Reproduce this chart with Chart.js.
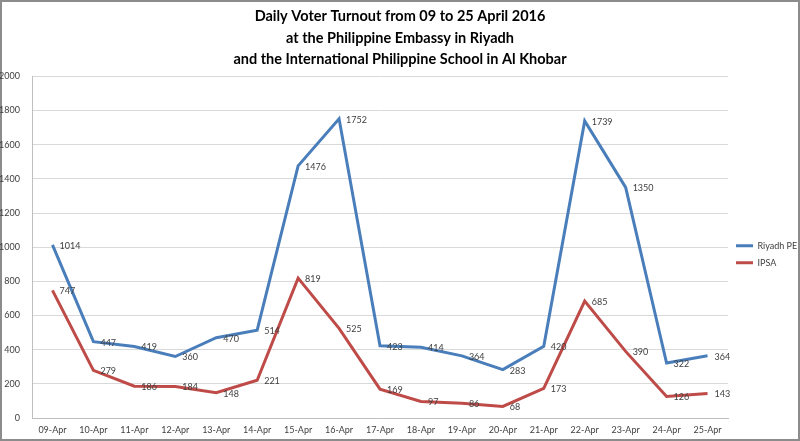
<!DOCTYPE html>
<html>
<head>
<meta charset="utf-8">
<script src="https://cdn.jsdelivr.net/npm/chart.js@4.4.1/dist/chart.umd.min.js"></script>
<style>
  html, body { margin: 0; padding: 0; background: #fff; }
  canvas { display: block; }
</style>
</head>
<body>
<canvas id="turnoutChart" width="800" height="441"></canvas>
<script>
// Datos de la gráfica
const days = ["09-Apr", "10-Apr", "11-Apr", "12-Apr", "13-Apr", "14-Apr", "15-Apr", "16-Apr", "17-Apr",
              "18-Apr", "19-Apr", "20-Apr", "21-Apr", "22-Apr", "23-Apr", "24-Apr", "25-Apr"];
const riyadhPE = [1014, 447, 419, 360, 470, 514, 1476, 1752, 423, 414, 364, 283, 420, 1739, 1350, 322, 364];
const ipsa = [747, 279, 186, 184, 148, 221, 819, 525, 169, 97, 86, 68, 173, 685, 390, 126, 143];
const titleLines = [
    "Daily Voter Turnout from 09 to 25 April 2016",
    "at the Philippine Embassy in Riyadh",
    "and the International Philippine School in Al Khobar"
];

const FONT = "Lato";

// Fondo blanco y marco gris
const frame = {
    id: "frame",
    beforeDraw(chart) {
        const ctx = chart.ctx;
        ctx.save();
        ctx.fillStyle = "#fff";
        ctx.fillRect(0, 0, chart.width, chart.height);
        ctx.strokeStyle = "#8c8c8c";
        ctx.lineWidth = 2;
        ctx.strokeRect(1, 1, chart.width - 2, chart.height - 2);
        ctx.restore();
    }
};

// Etiquetas de valor a la derecha de cada punto
const valueLabels = {
    id: "valueLabels",
    afterDatasetsDraw(chart) {
        const ctx = chart.ctx;
        ctx.save();
        ctx.font = `9px ${FONT}`;
        ctx.fillStyle = "#404040";
        ctx.textAlign = "left";
        ctx.textBaseline = "middle";
        chart.data.datasets.forEach((ds, i) => {
            chart.getDatasetMeta(i).data.forEach((pt, j) => {
                ctx.fillText(ds.data[j], pt.x + 7, pt.y + 1);
            });
        });
        ctx.restore();
    }
};

new Chart(document.getElementById("turnoutChart"), {
    type: "line",
    data: {
        labels: days,
        datasets: [
            {
                label: "Riyadh PE",
                data: riyadhPE,
                borderColor: "#4a7ebb",
                backgroundColor: "#4a7ebb",
                borderWidth: 3,
                pointRadius: 0,
                tension: 0
            },
            {
                label: "IPSA",
                data: ipsa,
                borderColor: "#be4b48",
                backgroundColor: "#be4b48",
                borderWidth: 3,
                pointRadius: 0,
                tension: 0
            }
        ]
    },
    options: {
        responsive: false,
        devicePixelRatio: 1,
        animation: false,
        layout: { padding: { left: 0, right: 0, top: 0, bottom: 0 } },
        plugins: {
            title: {
                display: true,
                text: titleLines,
                color: "#000",
                font: { family: FONT, size: 14.5, weight: "bold", lineHeight: 1.48 },
                padding: { top: 6, bottom: 6 }
            },
            legend: {
                position: "right",
                fullSize: false,
                maxWidth: 72,
                // título vacío solo para bajar un poco las entradas
                title: { display: true, text: " ", padding: 1, font: { size: 10 } },
                labels: {
                    usePointStyle: true,
                    pointStyle: "line",
                    pointStyleWidth: 17,
                    color: "#404040",
                    font: { family: FONT, size: 9 },
                    padding: 8
                }
            },
            tooltip: { enabled: false }
        },
        scales: {
            x: {
                offset: true,
                afterFit(scale) { scale.height = 23; },
                grid: { display: false, tickLength: 4 },
                border: { display: true, color: "#bfbfbf" },
                ticks: { color: "#404040", font: { family: FONT, size: 9 }, maxRotation: 0, autoSkip: false, padding: 3 }
            },
            y: {
                min: 0,
                max: 2000,
                afterFit(scale) { scale.width = 32; },
                grid: { color: "#d9d9d9", drawTicks: false },
                border: { display: true, color: "#bfbfbf" },
                ticks: {
                    stepSize: 200,
                    color: "#404040",
                    font: { family: FONT, size: 9 },
                    padding: 12,
                    callback: v => String(v)
                }
            }
        }
    },
    plugins: [frame, valueLabels]
});
</script>
</body>
</html>
